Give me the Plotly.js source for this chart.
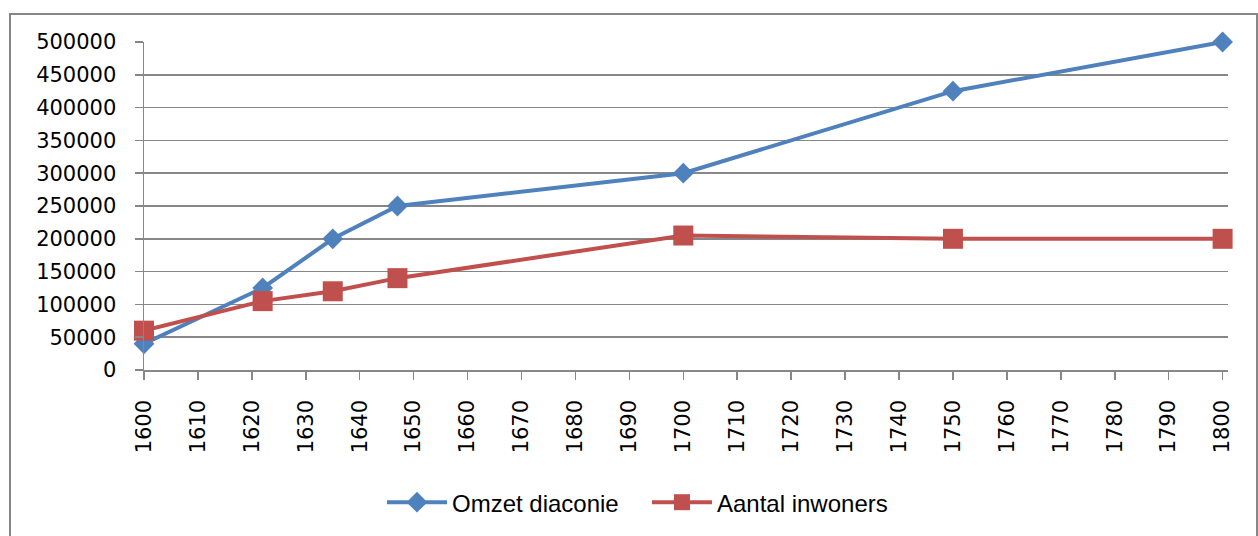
<!DOCTYPE html>
<html>
<head>
<meta charset="utf-8">
<script src="https://cdn.plot.ly/plotly-3.0.1.min.js"></script>
<style>
  html, body { margin: 0; padding: 0; background: #fff; }
  #wrap { position: relative; width: 1258px; height: 536px; overflow: hidden; }
  #chart { position: absolute; left: 0; top: 0; width: 1258px; height: 536px; }
  #frame { position: absolute; left: 9px; top: 13px; width: 1245px; height: 540px;
           border: 2px solid #878787; pointer-events: none; }
</style>
</head>
<body>
<div id="wrap">
  <div id="chart"></div>
  <div id="frame"></div>
</div>
<script>
const years = [1600, 1622, 1635, 1647, 1700, 1750, 1800];
const omzetDiaconie = [40000, 125000, 200000, 250000, 300000, 425000, 500000];
const aantalInwoners = [60000, 105000, 120000, 140000, 205000, 200000, 200000];
const seriesNames = ['Omzet diaconie', 'Aantal inwoners'];

const traces = [
  {
    x: years, y: omzetDiaconie, name: seriesNames[0], type: 'scatter', mode: 'lines+markers',
    line: { color: '#4F81BD', width: 4 }, cliponaxis: false,
    marker: { symbol: 'diamond', size: 16, color: '#4F81BD' }
  },
  {
    x: years, y: aantalInwoners, name: seriesNames[1], type: 'scatter', mode: 'lines+markers',
    line: { color: '#C0504D', width: 4 }, cliponaxis: false,
    marker: { symbol: 'square', size: 20, color: '#C0504D' }
  }
];

const layout = {
  width: 1258, height: 536,
  margin: { l: 144, r: 30, t: 42, b: 165 },
  paper_bgcolor: '#ffffff', plot_bgcolor: '#ffffff',
  font: { family: 'DejaVu Sans', size: 21, color: '#000' },
  showlegend: true,
  legend: {
    orientation: 'h', x: 0.464, xanchor: 'center', y: -0.40, yanchor: 'middle',
    font: { family: 'Liberation Sans', size: 24, color: '#000' },
    itemwidth: 60, tracegroupgap: 0, entrywidth: 190, entrywidthmode: 'pixels'
  },
  xaxis: {
    range: [1600, 1801], tickmode: 'linear', tick0: 1600, dtick: 10,
    tickangle: -90, showgrid: false, zeroline: false,
    showline: true, linecolor: '#878787', linewidth: 1.5,
    ticks: 'outside', ticklen: 8, tickcolor: '#878787', tickwidth: 1.5,
    ticklabelstandoff: 12,
    tickfont: { family: 'DejaVu Sans', size: 21, color: '#000' }
  },
  yaxis: {
    range: [0, 500000], tickmode: 'linear', tick0: 0, dtick: 50000,
    showgrid: true, gridcolor: '#878787', gridwidth: 1.5, zeroline: false,
    showline: true, linecolor: '#878787', linewidth: 1.5,
    ticks: 'outside', ticklen: 8, tickcolor: '#878787', tickwidth: 1.5,
    ticklabelstandoff: 14,
    tickformat: 'd',
    tickfont: { family: 'DejaVu Sans', size: 21, color: '#000' }
  }
};

Plotly.newPlot('chart', traces, layout, { displayModeBar: false, staticPlot: true });
</script>
</body>
</html>
